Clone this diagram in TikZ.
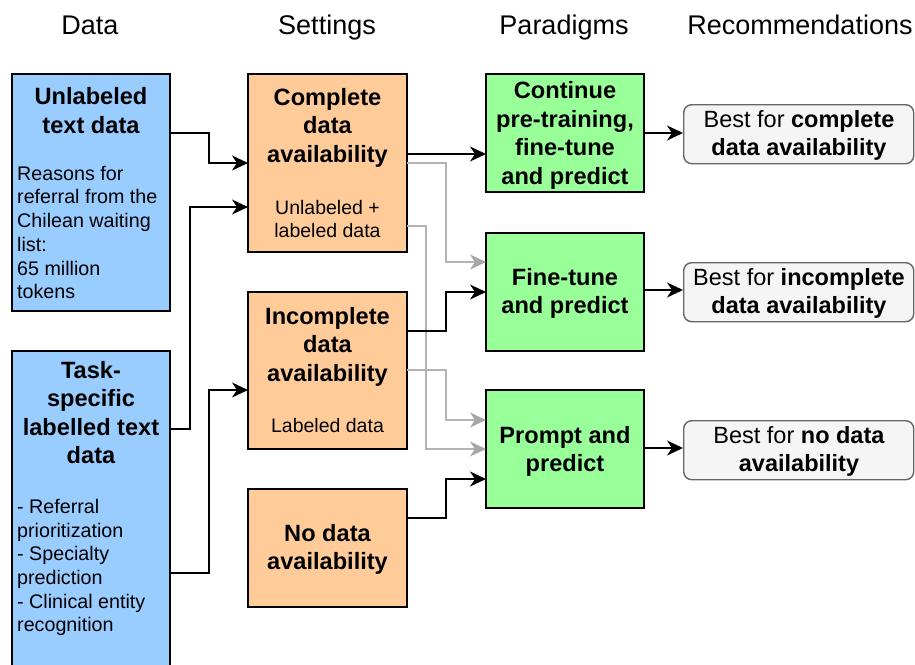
\documentclass[tikz,border=0pt]{standalone}
\usepackage{fontspec}
\setmainfont{Liberation Sans}
\usetikzlibrary{arrows.meta}
\definecolor{dblue}{HTML}{99CCFF}
\definecolor{sorange}{HTML}{FFCC99}
\definecolor{pgreen}{HTML}{99FF99}
\definecolor{rfill}{HTML}{F5F5F5}
\definecolor{rdraw}{HTML}{666666}
\definecolor{glink}{HTML}{B3B3B3}
\definecolor{ghead}{HTML}{A6A6A6}
\tikzset{
  box/.style={draw=black, line width=1.6pt, anchor=north west, inner sep=0pt, outer sep=0pt},
  databox/.style={box, fill=dblue, minimum width=158pt},
  setbox/.style={box, fill=sorange, minimum width=159pt},
  parbox/.style={box, fill=pgreen, minimum width=158pt, minimum height=118pt},
  recbox/.style={draw=rdraw, fill=rfill, line width=1.4pt, rounded corners=8pt, anchor=north west,
    inner sep=0pt, minimum width=230pt, minimum height=59pt},
  header/.style={font=\fontsize{27}{32}\selectfont, anchor=base, inner sep=0pt},
  btext/.style={font=\fontsize{23.6}{28.5}\selectfont\bfseries, align=center, inner sep=0pt},
  ntext/.style={font=\fontsize{19.7}{23.7}\selectfont, align=left, anchor=west, inner sep=0pt},
  ctext/.style={font=\fontsize{19.5}{23.5}\selectfont, align=center, inner sep=0pt},
  rtext/.style={font=\fontsize{23.5}{28.5}\selectfont, align=center, inner sep=0pt},
  conn/.style={draw=black, line width=1.6pt, -{Stealth[length=16pt, width=15pt, inset=5pt]}},
  gconn/.style={draw=glink, line width=1.4pt,
    -{Stealth[length=16pt, width=15pt, inset=5pt, color=ghead, fill=ghead]}},
}
\begin{document}
\begin{tikzpicture}[x=1pt, y=-1pt]
\clip (0,0) rectangle (915,664);
\fill[white] (0,0) rectangle (915,664);

% column headings
\node[header] (hData) at (90,34) {Data};
\node[header] (hSet) at (327,34) {Settings};
\node[header] (hPar) at (564,34) {Paradigms};
\node[header] (hRec) at (800,34) {Recommendations};

% data sources
\node[databox, minimum height=237pt] (unl) at (12,74) {};
\node[btext] (unlT) at (91,110.5) {Unlabeled\\text data};
\node[ntext] (unlB) at (17,232.5) {Reasons for\\referral from the\\Chilean waiting\\list:\\65 million\\tokens};

\node[databox, minimum height=350pt] (task) at (12,351) {};
\node[btext] (taskT) at (91,412.5) {Task-\\specific\\labelled text\\data};
\node[ntext] (taskB) at (17,567.5) {- Referral\\prioritization\\- Specialty\\prediction\\- Clinical entity\\recognition};

% settings
\node[setbox, minimum height=178pt] (cmp) at (248,74) {};
\node[btext] (cmpT) at (327.5,127.5) {Complete\\data\\availability};
\node[ctext] (cmpS) at (327.5,219) {Unlabeled +\\labeled data};

\node[setbox, minimum height=157pt] (inc) at (248,292) {};
\node[btext] (incT) at (327.5,346.5) {Incomplete\\data\\availability};
\node[ctext] (incS) at (327.5,426) {Labeled data};

\node[setbox, minimum height=118pt] (none) at (248,489) {};
\node[btext] (noneT) at (327.5,549.5) {No data\\availability};

% paradigms
\node[parbox] (cont) at (486,74) {};
\node[btext] (contT) at (565,135.5) {Continue\\pre-training,\\fine-tune\\and predict};

\node[parbox] (ft) at (486,233) {};
\node[btext] (ftT) at (565,293.5) {Fine-tune\\and predict};

\node[parbox] (pp) at (486,390) {};
\node[btext] (ppT) at (565,451.5) {Prompt and\\predict};

% recommendations
\node[recbox] (r1) at (683,104) {};
\node[rtext] (r1T) at (799,135.5) {Best for \textbf{complete}\\\textbf{data availability}};
\node[recbox] (r2) at (683,262) {};
\node[rtext] (r2T) at (799,293.5) {Best for \textbf{incomplete}\\\textbf{data availability}};
\node[recbox] (r3) at (683,420) {};
\node[rtext] (r3T) at (799,451.5) {Best for \textbf{no data}\\\textbf{availability}};

% secondary (grey) links
\draw[gconn] (cmp.east |- 0,163) -- ++(39,0) |- (ft.west |- 0,262);
\draw[gconn] (cmp.east |- 0,226) -- ++(19,0) |- (pp.west |- 0,449);
\draw[gconn] (inc.east |- 0,370) -- ++(39,0) |- (pp.west |- 0,420);

% primary links
\draw[conn] (unl.east |- 0,133) -- ++(39,0) |- (cmp.west |- 0,163);
\draw[conn] (task.east |- 0,429) -- ++(20,0) |- (cmp.west |- 0,207);
\draw[conn] (task.east |- 0,573) -- ++(39,0) |- (inc.west |- 0,390);
\draw[conn] (cmp.east |- 0,154) -- (cont.west |- 0,154);
\draw[conn] (inc.east |- 0,331) -- ++(39,0) |- (ft.west |- 0,292);
\draw[conn] (none.east |- 0,518) -- ++(39,0) |- (pp.west |- 0,479);
\draw[conn] (cont.east |- 0,133) -- (r1.west |- 0,133);
\draw[conn] (ft.east |- 0,290) -- (r2.west |- 0,290);
\draw[conn] (pp.east |- 0,448) -- (r3.west |- 0,448);
\end{tikzpicture}
\end{document}
